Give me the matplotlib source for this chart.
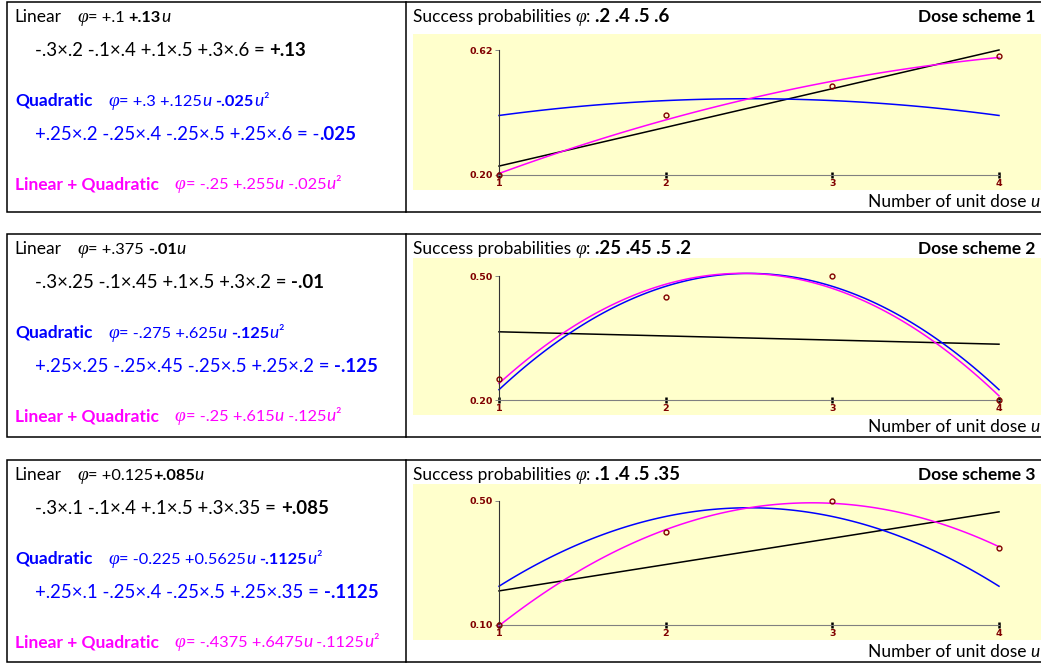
import numpy as np
import matplotlib
matplotlib.use("Agg")
import matplotlib.pyplot as plt
from matplotlib.patches import Rectangle
from matplotlib.font_manager import FontProperties
from matplotlib.ticker import FormatStrFormatter

# --- data -------------------------------------------------------------
u_points = [1, 2, 3, 4]
probs = [
    [.2, .4, .5, .6],
    [.25, .45, .5, .2],
    [.1, .4, .5, .35],
]
# polynomial coefficients (c0, c1, c2) of the drawn curves
lin_coef = [
    [0.1, 0.13, 0.0],
    [0.375, -0.01, 0.0],
    [0.125, 0.085, 0.0],
]
quad_coef = [
    [0.3, 0.125, -0.025],
    [-0.275, 0.625, -0.125],
    [-0.225, 0.5625, -0.1125],
]
both_coef = [
    [-0.025, 0.255, -0.025],
    [-0.25, 0.615, -0.125],
    [-0.4375, 0.6475, -0.1125],
]
y_ranges = [[0.20, 0.62], [0.20, 0.50], [0.10, 0.50]]
titles_prob = [".2 .4 .5 .6", ".25 .45 .5 .2", ".1 .4 .5 .35"]
scheme_names = ["Dose scheme 1", "Dose scheme 2", "Dose scheme 3"]

# left-cell text: (text, style) pieces; numbers are gaps in pixels
left_lines = [
    [
        [("Linear", "r"), (16, "gap"), ("φ", "f"), ("= +.1 ", "n"), ("+.13", "nb"), ("u", "i")],
        [("-.3×.2 -.1×.4 +.1×.5 +.3×.6 = ", "R"), ("+.13", "B")],
        [("Quadratic", "b"), (16, "gap"), ("φ", "f"), ("= +.3 +.125", "n"), ("u", "i"), (" ", "n"),
         ("-.025", "nb"), ("u", "i"), ("²", "n")],
        [("+.25×.2 -.25×.4 -.25×.5 +.25×.6 = -", "R"), (".025", "B")],
        [("Linear + Quadratic", "b"), (16, "gap"), ("φ", "f"), ("= -.25 +.255", "n"), ("u", "i"),
         (" -.025", "n"), ("u", "i"), ("²", "n")],
    ],
    [
        [("Linear", "r"), (16, "gap"), ("φ", "f"), ("= +.375 ", "n"), ("-.01", "nb"), ("u", "i")],
        [("-.3×.25 -.1×.45 +.1×.5 +.3×.2 = ", "R"), ("-.01", "B")],
        [("Quadratic", "b"), (16, "gap"), ("φ", "f"), ("= -.275 +.625", "n"), ("u", "i"), (" ", "n"),
         ("-.125", "nb"), ("u", "i"), ("²", "n")],
        [("+.25×.25 -.25×.45 -.25×.5 +.25×.2 = ", "R"), ("-.125", "B")],
        [("Linear + Quadratic", "b"), (16, "gap"), ("φ", "f"), ("= -.25 +.615", "n"), ("u", "i"),
         (" -.125", "n"), ("u", "i"), ("²", "n")],
    ],
    [
        [("Linear", "r"), (16, "gap"), ("φ", "f"), ("= +0.125", "n"), ("+.085", "nb"), ("u", "i")],
        [("-.3×.1 -.1×.4 +.1×.5 +.3×.35 = ", "R"), ("+.085", "B")],
        [("Quadratic", "b"), (16, "gap"), ("φ", "f"), ("= -0.225 +0.5625", "n"), ("u", "i"), (" ", "n"),
         ("-.1125", "nb"), ("u", "i"), ("²", "n")],
        [("+.25×.1 -.25×.4 -.25×.5 +.25×.35 = ", "R"), ("-.1125", "B")],
        [("Linear + Quadratic", "b"), (16, "gap"), ("φ", "f"), ("= -.4375 +.6475", "n"), ("u", "i"),
         (" -.1125", "n"), ("u", "i"), ("²", "n")],
    ],
]
line_colors = ["black", "black", "#0000FF", "#0000FF", "#FF00FF"]
line_x = [14, 35, 15, 35, 15]
line_rel = [13.5, 46.5, 97.5, 130.5, 181]

# --- layout (pixels) --------------------------------------------------
W, H = 1041, 664
row_top = [2, 234, 460]
row_bot = [212, 437, 662]
yellow_top = [34, 258, 484]
yellow_bot = [190, 415, 640]
axis_top = [50, 276, 501]
axis_bot = [175, 400, 625]
title_y = [16, 248, 474]
xlabel_y = [201, 426, 651]
MAROON = "#800000"

SMALL, NUM, LARGE = 12.5, 11.8, 13.4
styles = {
    "r": dict(family="Lato", size=SMALL),
    "b": dict(family="Lato", size=SMALL, weight="bold"),
    "i": dict(family="Lato", size=SMALL, style="italic"),
    "n": dict(family="Lato", size=NUM),
    "nb": dict(family="Lato", size=NUM, weight="bold"),
    "f": dict(family="Liberation Serif", size=SMALL + 1.5, style="italic"),
    "R": dict(family="Lato", size=LARGE),
    "B": dict(family="Lato", size=LARGE, weight="bold"),
}

fig = plt.figure(figsize=(W / 100, H / 100), dpi=100)
bg = fig.add_axes([0, 0, 1, 1])
bg.set_xlim(0, W)
bg.set_ylim(H, 0)
bg.axis("off")
renderer = fig.canvas.get_renderer()


def piece_width(s, st):
    fp = FontProperties(**st)
    w1 = renderer.get_text_width_height_descent("|" + s + "|", fp, ismath=False)[0]
    w0 = renderer.get_text_width_height_descent("||", fp, ismath=False)[0]
    return w1 - w0


def rich(x, y, parts, color, ha="left"):
    widths = []
    for s, key in parts:
        widths.append(s if key == "gap" else piece_width(s, styles[key]))
    if ha == "right":
        x -= sum(widths)
    for (s, key), w in zip(parts, widths):
        if key != "gap":
            bg.text(x, y, s, color=color, va="baseline", ha="left", **styles[key])
        x += w


for k in range(3):
    top, bot = row_top[k], row_bot[k]
    # table borders
    bg.add_patch(Rectangle((7, top), 399, bot - top, fill=False, ec="black", lw=1.1))
    bg.plot([406, W], [top, top], color="black", lw=1.1)
    bg.plot([406, W], [bot, bot], color="black", lw=1.1)
    bg.add_patch(Rectangle((413, yellow_top[k]), W - 413, yellow_bot[k] - yellow_top[k],
                           color="#FFFFCC", lw=0))

    # left cell text
    for j, parts in enumerate(left_lines[k]):
        big = parts[0][1] == "R"
        rich(line_x[j], top + line_rel[j] + (7 if big else 6), parts, line_colors[j])

    # right cell text
    rich(413, title_y[k] + 6,
         [("Success probabilities ", "r"), ("φ", "f"), (": ", "r"), (titles_prob[k], "B")], "black")
    rich(1035, title_y[k] + 6, [(scheme_names[k], "b")], "black", ha="right")
    rich(1040, xlabel_y[k] + 6, [("Number of unit dose ", "r"), ("u", "i")], "black", ha="right")

    # chart
    at, ab = axis_top[k], axis_bot[k]
    ax = fig.add_axes([499 / W, 1 - ab / H, 500 / W, (ab - at) / H])
    ax.set_xlim(1, 4)
    ax.set_ylim(*y_ranges[k])
    ax.patch.set_alpha(0)
    for s in ("top", "right"):
        ax.spines[s].set_visible(False)
    ax.spines["left"].set_color("#333333")
    ax.spines["left"].set_linewidth(0.8)
    ax.spines["bottom"].set_color("#808080")
    ax.spines["bottom"].set_linewidth(0.8)
    ax.set_xticks(u_points)
    ax.set_yticks(y_ranges[k])
    ax.yaxis.set_major_formatter(FormatStrFormatter("%.2f"))
    ax.tick_params(axis="y", direction="out", length=3, width=0.7, color="#888888",
                   labelsize=6.8, labelcolor=MAROON, pad=1.5)
    ax.tick_params(axis="x", direction="inout", length=4.5, width=1.8, color="black",
                   labelsize=6.8, labelcolor=MAROON, pad=0.5)
    for lab in ax.get_xticklabels() + ax.get_yticklabels():
        lab.set_fontweight("bold")

    uu = np.linspace(1, 4, 120)
    ax.plot(uu, np.polyval(lin_coef[k][::-1], uu), color="black", lw=1.1, clip_on=False)
    ax.plot(uu, np.polyval(quad_coef[k][::-1], uu), color="#0000FF", lw=1.1, clip_on=False)
    ax.plot(uu, np.polyval(both_coef[k][::-1], uu), color="#FF00FF", lw=1.1, clip_on=False)
    ax.plot(u_points, probs[k], ls="none", marker="o", ms=3.5, mfc="none", mec=MAROON,
            mew=1.0, clip_on=False, zorder=5)

fig.savefig("out.png", dpi=100)
